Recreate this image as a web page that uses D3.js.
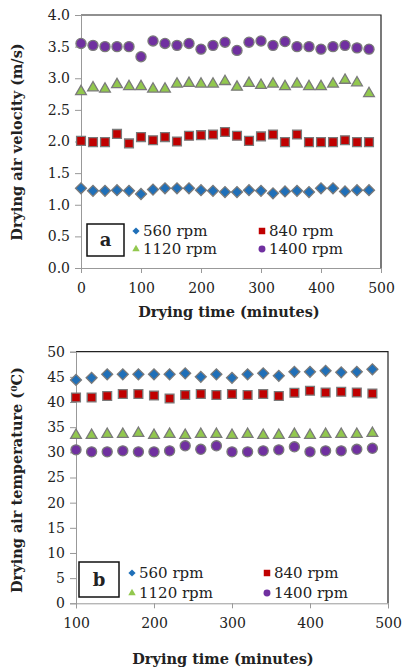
<!DOCTYPE html>
<html>
<head>
<meta charset="utf-8">
<script src="https://cdn.jsdelivr.net/npm/d3@7"></script>
<style>
  body { margin: 0; background: #fff; }
  text { font-family: "DejaVu Serif", serif; fill: #222; }
</style>
</head>
<body>
<div id="chart"></div>
<script>
// Data
var seriesNames = ["560 rpm", "840 rpm", "1120 rpm", "1400 rpm"];

// panel a: drying air velocity, t = 0..480 step 20
var timeA = d3.range(0, 481, 20);
var velocity560 = [1.26,1.22,1.22,1.23,1.22,1.17,1.24,1.26,1.26,1.26,1.23,1.22,1.20,1.20,1.23,1.22,1.18,1.21,1.22,1.20,1.26,1.26,1.21,1.23,1.23];
var velocity840 = [2.01,1.99,1.99,2.12,1.97,2.07,2.02,2.07,2.00,2.09,2.10,2.11,2.15,2.09,2.01,2.08,2.11,1.99,2.11,1.99,1.99,1.99,2.02,1.99,1.99];
var velocity1120 = [2.79,2.85,2.83,2.90,2.87,2.87,2.83,2.83,2.91,2.92,2.91,2.91,2.95,2.86,2.92,2.89,2.91,2.87,2.91,2.87,2.87,2.91,2.97,2.93,2.76];
var velocity1400 = [3.55,3.52,3.50,3.50,3.50,3.34,3.59,3.55,3.52,3.55,3.46,3.52,3.57,3.44,3.57,3.59,3.52,3.58,3.50,3.50,3.46,3.50,3.52,3.48,3.46];

// panel b: drying air temperature, t = 100..480 step 20
var timeB = d3.range(100, 481, 20);
var temp560 = [44.4,44.8,45.5,45.5,45.5,45.5,45.5,45.7,45.0,45.5,44.8,45.5,45.7,45.2,46.0,46.0,46.2,45.9,46.0,46.5];
var temp840 = [40.9,40.9,41.2,41.6,41.6,41.3,40.7,41.4,41.6,41.4,41.6,41.4,41.6,41.2,41.85,42.25,41.9,42.05,41.9,41.7];
var temp1120 = [33.4,33.4,33.6,33.6,33.8,33.4,33.6,33.4,33.6,33.6,33.4,33.6,33.4,33.4,33.6,33.4,33.6,33.6,33.6,33.8];
var temp1400 = [30.5,30.1,30.1,30.3,30.1,30.1,30.3,31.3,30.6,31.3,30.1,30.1,30.3,30.5,31.1,30.1,30.3,30.3,30.6,30.8];

var colors = ["#1F6FB8", "#C00000", "#92C84E", "#7030A0"];
var shapes = [d3.symbolSquare, d3.symbolSquare, d3.symbolTriangle, d3.symbolCircle];
var rotations = [45, 0, 0, 0];
var plotSizes = [60, 78, 50, 80];
var legendSizes = [26, 42, 24, 38];

var svg = d3.select("#chart").append("svg")
  .attr("width", 404)
  .attr("height", 670);

function drawPanel(cfg) {
  var x = d3.scaleLinear().domain(cfg.xDomain).range([cfg.left, cfg.right]);
  var y = d3.scaleLinear().domain(cfg.yDomain).range([cfg.bottom, cfg.top]);
  var g = svg.append("g");

  // frame top/right
  g.append("path")
    .attr("d", `M${cfg.left},${cfg.top}H${cfg.right}V${cfg.bottom}`)
    .attr("fill", "none")
    .attr("stroke", "#222")
    .attr("stroke-width", 1.2);

  var xAxis = g.append("g")
    .attr("transform", `translate(0,${cfg.bottom})`)
    .call(d3.axisBottom(x).tickValues(cfg.xTicks).tickSize(5).tickPadding(10).tickFormat(d3.format("d")));
  var yAxis = g.append("g")
    .attr("transform", `translate(${cfg.left},0)`)
    .call(d3.axisLeft(y).tickValues(cfg.yTicks).tickSize(6).tickPadding(5).tickFormat(cfg.yFormat));
  [xAxis, yAxis].forEach(function(a) {
    a.select(".domain").attr("stroke", "#999");
    a.selectAll(".tick line").attr("stroke", "#999");
    a.selectAll(".tick text").style("font-size", "14px").attr("fill", "#222");
  });

  // points
  cfg.series.forEach(function(vals, i) {
    g.append("g").selectAll("path")
      .data(vals)
      .enter()
      .append("path")
      .attr("d", d3.symbol().type(shapes[i]).size(plotSizes[i]))
      .attr("transform", (d, j) => `translate(${x(cfg.time[j])},${y(d)}) rotate(${rotations[i]})`)
      .attr("fill", colors[i])
      .attr("stroke", "#7a7a7a")
      .attr("stroke-width", 1.3);
  });

  // letter box
  g.append("rect")
    .attr("x", cfg.box[0]).attr("y", cfg.box[1])
    .attr("width", cfg.box[2]).attr("height", cfg.box[3])
    .attr("fill", "#fff").attr("stroke", "#111").attr("stroke-width", 1.5);
  g.append("text")
    .attr("x", cfg.box[0] + cfg.box[2] / 2)
    .attr("y", cfg.box[1] + cfg.box[3] / 2 + 6)
    .attr("text-anchor", "middle")
    .style("font-size", "18px").style("font-weight", "bold")
    .text(cfg.letter);

  // legend
  seriesNames.forEach(function(name, i) {
    var col = i % 2, row = Math.floor(i / 2);
    var mx = cfg.legend.x[col], my = cfg.legend.y[row];
    g.append("path")
      .attr("d", d3.symbol().type(shapes[i]).size(legendSizes[i]))
      .attr("transform", `translate(${mx},${my}) rotate(${rotations[i]})`)
      .attr("fill", colors[i]);
    g.append("text")
      .attr("x", mx + 7)
      .attr("y", my + 5)
      .style("font-size", "15px")
      .text(name);
  });

  // axis titles
  g.append("text")
    .attr("x", cfg.xTitle[0]).attr("y", cfg.xTitle[1])
    .attr("text-anchor", "middle")
    .style("font-size", "14.5px").style("font-weight", "bold")
    .text("Drying time (minutes)");
  g.append("text")
    .attr("transform", `translate(${cfg.yTitle[0]},${cfg.yTitle[1]}) rotate(-90)`)
    .attr("text-anchor", "middle")
    .style("font-size", "14.5px").style("font-weight", "bold")
    .text(cfg.yLabel);
}

drawPanel({
  left: 81, right: 381, top: 15, bottom: 268,
  xDomain: [0, 500], yDomain: [0, 4],
  xTicks: [0, 100, 200, 300, 400, 500],
  yTicks: d3.range(0, 4.01, 0.5),
  yFormat: d3.format(".1f"),
  time: timeA,
  series: [velocity560, velocity840, velocity1120, velocity1400],
  box: [87, 224, 37, 32], letter: "a",
  legend: { x: [136, 262], y: [231, 249] },
  xTitle: [229, 317],
  yTitle: [22, 142],
  yLabel: "Drying air velocity (m/s)"
});

drawPanel({
  left: 76, right: 388, top: 351.7, bottom: 603.3,
  xDomain: [100, 500], yDomain: [0, 50],
  xTicks: [100, 200, 300, 400, 500],
  yTicks: d3.range(0, 51, 5),
  yFormat: d3.format("d"),
  time: timeB,
  series: [temp560, temp840, temp1120, temp1400],
  box: [79, 562, 40, 35], letter: "b",
  legend: { x: [132, 267], y: [573, 593] },
  xTitle: [223, 664],
  yTitle: [22, 480],
  yLabel: "Drying air temperature (\u2070C)"
});
</script>
</body>
</html>
